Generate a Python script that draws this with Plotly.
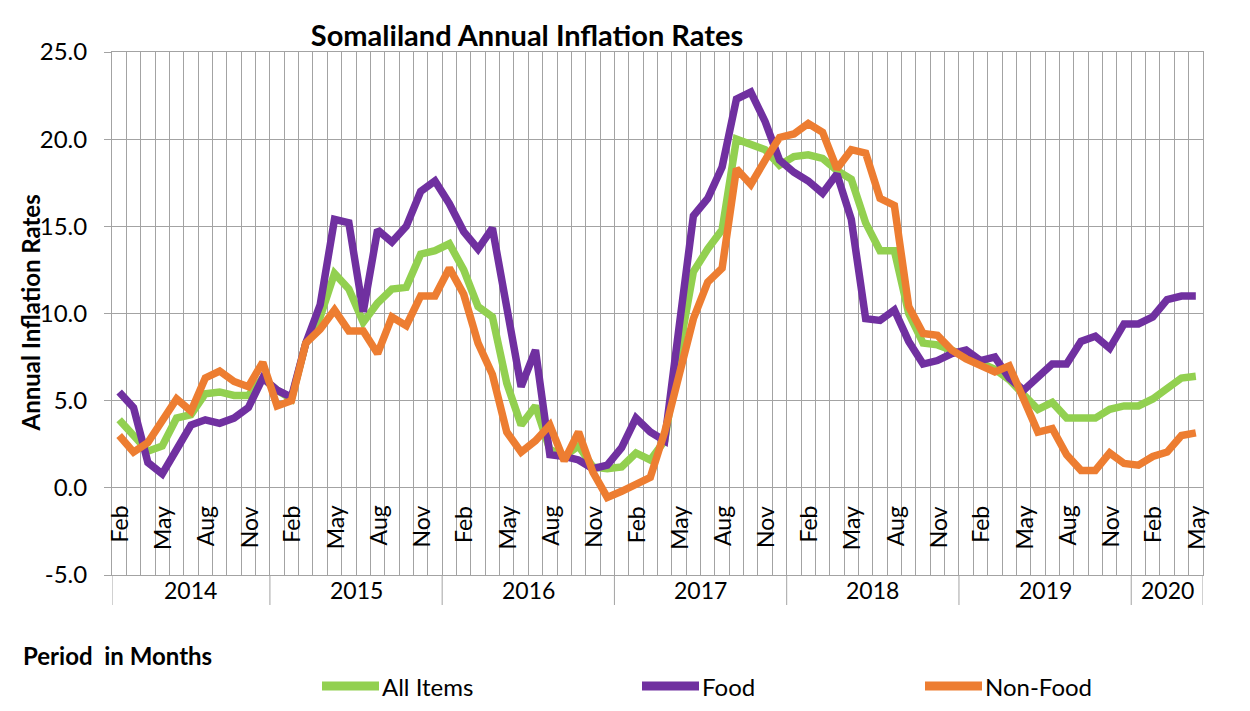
import plotly.graph_objects as go

# ---------------- data ----------------
month_names = ["Jan", "Feb", "Mar", "Apr", "May", "Jun",
               "Jul", "Aug", "Sep", "Oct", "Nov", "Dec"]
years = [2014, 2015, 2016, 2017, 2018, 2019, 2020]
labelled_months = ["Feb", "May", "Aug", "Nov"]

ytick_values = [-5, 0, 5, 10, 15, 20, 25]
ytick_labels = ["-5.0", "0.0", "5.0", "10.0", "15.0", "20.0", "25.0"]

# monthly periods Feb 2014 .. May 2020
period_year = []
period_month = []
for yr in years:
    for mi, mn in enumerate(month_names):
        if yr == 2014 and mi < 1:
            continue
        if yr == 2020 and mi > 4:
            continue
        period_year.append(yr)
        period_month.append(mn)

all_items = [3.9, 3.0, 2.1, 2.4, 4.0, 4.2, 5.4, 5.5, 5.3, 5.3, 6.3,
             5.6, 5.1, 8.3, 9.8, 12.3, 11.4, 9.5, 10.6, 11.4, 11.5, 13.4, 13.6,
             14.0, 12.5, 10.4, 9.8, 6.0, 3.6, 4.7, 2.2, 1.8, 2.4, 1.2, 1.1,
             1.2, 2.0, 1.6, 2.7, 7.8, 12.4, 13.7, 14.8, 20.0, 19.7, 19.4, 18.5,
             19.0, 19.1, 18.9, 18.2, 17.7, 15.2, 13.6, 13.6, 10.0, 8.3, 8.2, 7.9,
             7.5, 7.1, 6.8, 6.2, 5.3, 4.5, 4.9, 4.0, 4.0, 4.0, 4.5, 4.7,
             4.7, 5.1, 5.7, 6.3, 6.4]

food = [5.5, 4.6, 1.45, 0.8, 2.2, 3.6, 3.9, 3.7, 4.0, 4.6, 6.3,
        5.6, 5.2, 8.3, 10.5, 15.4, 15.2, 10.1, 14.8, 14.1, 15.0, 17.0, 17.6,
        16.3, 14.7, 13.7, 14.9, 10.4, 5.8, 7.9, 1.9, 1.8, 1.6, 1.1, 1.3,
        2.3, 4.0, 3.2, 2.7, 9.2, 15.6, 16.6, 18.4, 22.3, 22.7, 21.0, 18.8,
        18.1, 17.6, 16.9, 18.0, 15.4, 9.7, 9.6, 10.2, 8.4, 7.1, 7.3, 7.7,
        7.9, 7.3, 7.5, 6.3, 5.6, 6.4, 7.1, 7.1, 8.4, 8.7, 8.0, 9.4,
        9.4, 9.8, 10.8, 11.0, 11.0]

non_food = [3.0, 2.05, 2.6, 3.9, 5.1, 4.4, 6.3, 6.7, 6.1, 5.8, 7.2,
            4.7, 5.0, 8.3, 9.1, 10.2, 9.0, 9.0, 7.7, 9.8, 9.3, 11.0, 11.0,
            12.6, 11.1, 8.3, 6.5, 3.2, 2.05, 2.7, 3.6, 1.55, 3.2, 0.9, -0.55,
            -0.2, 0.2, 0.6, 3.2, 6.6, 9.7, 11.8, 12.6, 18.3, 17.4, 18.8, 20.1,
            20.3, 20.9, 20.4, 18.3, 19.4, 19.2, 16.6, 16.2, 10.4, 8.85, 8.75, 7.9,
            7.4, 7.0, 6.65, 7.0, 5.0, 3.2, 3.4, 1.9, 1.0, 1.0, 2.0, 1.4,
            1.3, 1.8, 2.05, 3.0, 3.15]

series_names = ["All Items", "Food", "Non-Food"]
series_values = [all_items, food, non_food]
series_colors = ["#92D050", "#7030A0", "#ED7D31"]

# ---------------- figure ----------------
FONT = "Lato, 'Open Sans', Arial, sans-serif"
GRID = "#a3a3a3"
n = len(period_month)
xs = list(range(n))
hover = [f"{m} {y}" for m, y in zip(period_month, period_year)]

# plot area (the page puts the figure 8 px in from the top-left corner)
ML, MR, MT, MB = 104, 55, 44, 144
PW = 1250 - ML - MR   # 1091
PH = 711 - MT - MB    # 523
PAGE_OFF = 8


def px_x(px):   # page x pixel -> paper x
    return (px - PAGE_OFF - ML) / PW


def px_y(py):   # page y pixel -> paper y
    return 1 - (py - PAGE_OFF - MT) / PH


fig = go.Figure()
for name, vals, col in zip(series_names, series_values, series_colors):
    fig.add_trace(go.Scatter(
        x=xs, y=vals, name=name, mode="lines",
        line=dict(color=col, width=7.5),
        customdata=hover,
        hovertemplate="%{customdata}: %{y:.1f}<extra>" + name + "</extra>",
        showlegend=False,
    ))

annotations = []
shapes = []

# month labels (rotated) just under the zero line
for i, (m, y) in enumerate(zip(period_month, period_year)):
    if m in labelled_months:
        annotations.append(dict(
            x=i, y=0, xref="x", yref="y", text=m, showarrow=False,
            textangle=-90, xanchor="center", yanchor="top", yshift=-16,
            font=dict(family=FONT, size=23, color="#000000"),
        ))

# year labels and separators below the plot
boundaries = [-0.5]
for yr in years:
    idx = [i for i, y in enumerate(period_year) if y == yr]
    lo, hi = idx[0] - 0.5, idx[-1] + 0.5
    boundaries.append(hi)
    annotations.append(dict(
        x=(lo + hi) / 2, y=px_y(590), xref="x", yref="paper", text=str(yr),
        showarrow=False, xanchor="center", yanchor="middle",
        font=dict(family=FONT, size=23, color="#000000"),
    ))
for b in boundaries:
    shapes.append(dict(type="line", xref="x", yref="paper", x0=b, x1=b,
                       y0=0, y1=px_y(605), line=dict(color=GRID, width=1)))

# axis titles
annotations.append(dict(
    x=px_x(30), y=0.5, xref="paper", yref="paper",
    text="<b>Annual Inflation Rates</b>",
    showarrow=False, textangle=-90, xanchor="center", yanchor="middle",
    font=dict(family=FONT, size=24, color="#000000"),
))
annotations.append(dict(
    x=px_x(21), y=px_y(655), xref="paper", yref="paper",
    text="<b>Period\u00a0 in Months</b>", showarrow=False,
    xanchor="left", yanchor="middle",
    font=dict(family=FONT, size=24, color="#000000"),
))

# legend (bottom)
leg_y = px_y(686)
leg_x0_px = [322, 642, 925]
for name, col, p0 in zip(series_names, series_colors, leg_x0_px):
    shapes.append(dict(type="line", xref="paper", yref="paper",
                       x0=px_x(p0), x1=px_x(p0 + 57), y0=leg_y, y1=leg_y,
                       line=dict(color=col, width=9)))
    annotations.append(dict(
        x=px_x(p0 + 58), y=leg_y, xref="paper", yref="paper", text=name,
        showarrow=False, xanchor="left", yanchor="middle",
        font=dict(family=FONT, size=24, color="#000000"),
    ))

# chart frame line on the left
shapes.append(dict(type="line", xref="paper", yref="paper",
                   x0=px_x(6), x1=px_x(6), y0=px_y(0), y1=px_y(711),
                   line=dict(color="#bfbfbf", width=2)))

fig.update_layout(
    width=1250, height=711, autosize=False,
    margin=dict(l=ML, r=MR, t=MT, b=MB),
    paper_bgcolor="white", plot_bgcolor="white",
    font=dict(family=FONT, size=20, color="#000000"),
    title=dict(text="<b>Somaliland Annual Inflation Rates</b>",
               x=px_x(527), xref="paper", xanchor="center",
               y=1 - (36 - PAGE_OFF) / 711, yref="container", yanchor="middle",
               font=dict(family=FONT, size=29, color="#000000")),
    xaxis=dict(range=[-0.5, n - 0.5], tickvals=[k - 0.5 for k in range(n + 1)],
               showticklabels=False, ticks="", showgrid=True, gridcolor=GRID,
               gridwidth=1, zeroline=False, showline=True, linecolor=GRID,
               mirror=True, fixedrange=True),
    yaxis=dict(range=[-5, 25], tickmode="array", tickvals=ytick_values,
               ticktext=ytick_labels,
               showgrid=True, gridcolor=GRID, gridwidth=1, zeroline=False,
               ticks="outside", ticklen=7, tickcolor=GRID, showline=True,
               linecolor=GRID, mirror=True, ticklabelstandoff=12,
               tickfont=dict(family=FONT, size=24, color="#000000"),
               fixedrange=True),
    annotations=annotations,
    shapes=shapes,
    showlegend=False,
)

fig.write_html("out.html")
